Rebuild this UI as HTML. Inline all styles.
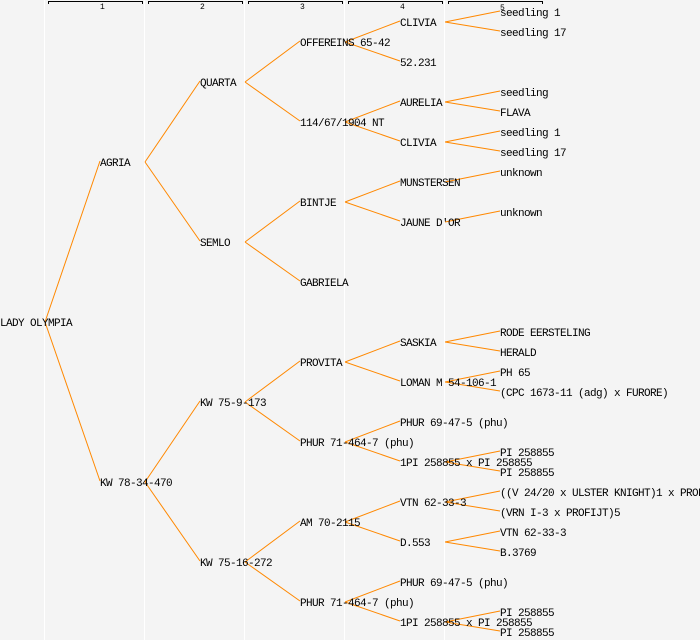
<!DOCTYPE html>
<html><head><meta charset="utf-8"><style>
html,body{margin:0;padding:0;background:#f4f4f4;}
svg{display:block;}
text{font-family:"Liberation Mono",monospace;font-size:11px;letter-spacing:-0.6px;fill:#000;}
.h{font-size:8px;letter-spacing:0;}
</style></head><body>
<svg width="700" height="640" xmlns="http://www.w3.org/2000/svg">
<rect width="700" height="640" fill="#f4f4f4"/>
<g stroke="#ffffff" stroke-width="1">
<line x1="44.5" y1="0" x2="44.5" y2="640"/><line x1="144.5" y1="0" x2="144.5" y2="640"/><line x1="244.5" y1="0" x2="244.5" y2="640"/><line x1="344.5" y1="0" x2="344.5" y2="640"/><line x1="444.5" y1="0" x2="444.5" y2="640"/>
</g>
<g stroke="#000" stroke-width="1" fill="none">
<path d="M48.5 4V1.5H142.5V4 M148.5 4V1.5H242.5V4 M248.5 4V1.5H342.5V4 M348.5 4V1.5H442.5V4 M448.5 4V1.5H542.5V4"/>
</g>
<text class="h" x="100" y="9">1</text><text class="h" x="200" y="9">2</text><text class="h" x="300" y="9">3</text><text class="h" x="400" y="9">4</text><text class="h" x="500" y="10">5</text>
<path fill="none" stroke="#ff8800" stroke-width="1" d="
M45 322L100 161M45 322L100 481
M145 162L200 81M145 162L200 241
M145 482L200 401M145 482L200 561
M245 82L300 41M245 82L300 121
M245 242L300 201M245 242L300 281
M245 402L300 361M245 402L300 441
M245 562L300 521M245 562L300 601
M345 42L400 21M345 42L400 61
M345 122L400 101M345 122L400 141
M345 202L400 181M345 202L400 221
M345 362L400 341M345 362L400 381
M345 442L400 421M345 442L400 461
M345 522L400 501M345 522L400 541
M345 602L400 581M345 602L400 621
M445 22L500 11M445 22L500 31
M445 102L500 91M445 102L500 111
M445 142L500 131M445 142L500 151
M445 182L500 171
M445 222L500 211
M445 342L500 331M445 342L500 351
M445 382L500 371M445 382L500 391
M445 462L500 451M445 462L500 471
M445 502L500 491M445 502L500 511
M445 542L500 531M445 542L500 551
M445 622L500 611M445 622L500 631"/>
<text x="0" y="326">LADY OLYMPIA</text>
<text x="100" y="166">AGRIA</text>
<text x="100" y="486">KW 78-34-470</text>
<text x="200" y="86">QUARTA</text>
<text x="200" y="246">SEMLO</text>
<text x="200" y="406">KW 75-9-173</text>
<text x="200" y="566">KW 75-16-272</text>
<text x="300" y="46">OFFEREINS 65-42</text>
<text x="300" y="126">114/67/1904 NT</text>
<text x="300" y="206">BINTJE</text>
<text x="300" y="286">GABRIELA</text>
<text x="300" y="366">PROVITA</text>
<text x="300" y="446">PHUR 71-464-7 (phu)</text>
<text x="300" y="526">AM 70-2115</text>
<text x="300" y="606">PHUR 71-464-7 (phu)</text>
<text x="400" y="26">CLIVIA</text>
<text x="400" y="66">52.231</text>
<text x="400" y="106">AURELIA</text>
<text x="400" y="146">CLIVIA</text>
<text x="400" y="186">MUNSTERSEN</text>
<text x="400" y="226">JAUNE D'OR</text>
<text x="400" y="346">SASKIA</text>
<text x="400" y="386">LOMAN M 54-106-1</text>
<text x="400" y="426">PHUR 69-47-5 (phu)</text>
<text x="400" y="466">1PI 258855 x PI 258855</text>
<text x="400" y="506">VTN 62-33-3</text>
<text x="400" y="546">D.553</text>
<text x="400" y="586">PHUR 69-47-5 (phu)</text>
<text x="400" y="626">1PI 258855 x PI 258855</text>
<text x="500" y="16">seedling 1</text>
<text x="500" y="36">seedling 17</text>
<text x="500" y="96">seedling</text>
<text x="500" y="116">FLAVA</text>
<text x="500" y="136">seedling 1</text>
<text x="500" y="156">seedling 17</text>
<text x="500" y="176">unknown</text>
<text x="500" y="216">unknown</text>
<text x="500" y="336">RODE EERSTELING</text>
<text x="500" y="356">HERALD</text>
<text x="500" y="376">PH 65</text>
<text x="500" y="396">(CPC 1673-11 (adg) x FURORE)</text>
<text x="500" y="456">PI 258855</text>
<text x="500" y="476">PI 258855</text>
<text x="500" y="496">((V 24/20 x ULSTER KNIGHT)1 x PROFIJT)</text>
<text x="500" y="516">(VRN I-3 x PROFIJT)5</text>
<text x="500" y="536">VTN 62-33-3</text>
<text x="500" y="556">B.3769</text>
<text x="500" y="616">PI 258855</text>
<text x="500" y="636">PI 258855</text>
</svg>
</body></html>
